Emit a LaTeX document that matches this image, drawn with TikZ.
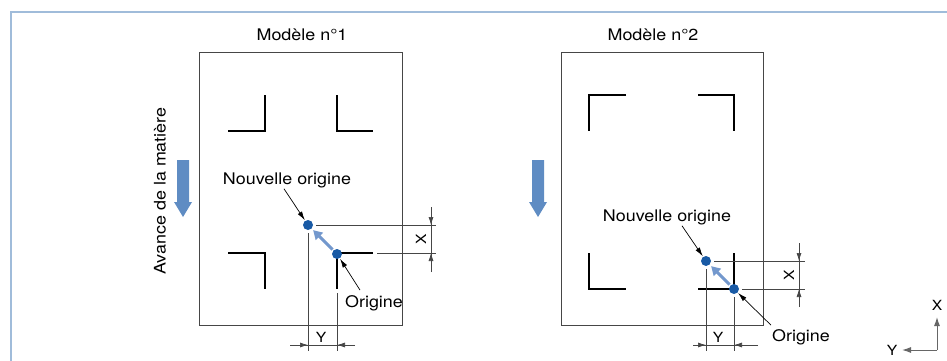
\documentclass[tikz,border=0pt]{standalone}
\usepackage{fontspec}
\setmainfont[FakeStretch=1.12]{TeX Gyre Heros}
\usetikzlibrary{arrows.meta,calc}

\definecolor{cadrebleu}{RGB}{160,188,218}
\definecolor{pointbleu}{RGB}{25,90,165}
\definecolor{flechebleu}{RGB}{115,152,205}
\definecolor{avancebleu}{RGB}{95,140,195}
\definecolor{traitgris}{RGB}{70,70,70}

\tikzset{
  feuille/.style={draw=traitgris, line width=0.9pt},
  repere/.style={draw=black, line width=1.5pt},
  cote/.style={draw=traitgris, line width=0.7pt},
  cotefl/.style={cote, -{Latex[length=8pt,width=5pt]}},
  dot/.style={circle, fill=pointbleu, inner sep=0pt, minimum size=10pt},
  lbl/.style={font=\fontsize{16}{17}\selectfont, inner sep=1pt},
  petit/.style={font=\fontsize{14}{15}\selectfont, inner sep=1pt},
  appel/.style={draw=black, line width=0.7pt, -{Latex[length=9pt,width=5pt]}, shorten >=0.5pt},
  deplace/.style={draw=flechebleu, line width=3pt, -{Triangle[length=9pt,width=10pt]}, shorten >=2pt, shorten <=1pt},
  axe/.style={draw=gray!80!black, line width=1pt, -{Latex[length=9pt,width=6pt]}},
}

\begin{document}
\begin{tikzpicture}[x=1pt, y=-1pt]
  \useasboundingbox (0,0) rectangle (947,361);
  % cadre
  \draw[cadrebleu, line width=1.5pt] (11,365) -- (11,12) -- (950,12);

  % avance de la matiere
  \node[lbl, rotate=90] (avance) at (160,191) {Avance de la matière};
  \fill[avancebleu] (177,160) -- (189,160) -- (189,202) -- (192,202) -- (183,217) -- (174,202) -- (177,202) -- cycle;
  \fill[avancebleu] (532,160) -- (544,160) -- (544,202) -- (547,202) -- (538,217) -- (529,202) -- (532,202) -- cycle;

  % modele 1
  \node[lbl] (titre1) at (302,35) {Modèle n°1};
  \draw[feuille] (199,52) rectangle (402,325);
  \draw[repere] (228,131) -- (265,131) -- (265,95);
  \draw[repere] (337,95) -- (337,131) -- (373,131);
  \draw[repere] (228,253) -- (265,253) -- (265,289);
  \draw[repere] (373,253) -- (337,253) -- (337,289);

  \draw[cote] (316,225) -- (436,225);
  \draw[cote] (377,253) -- (436,253);
  \draw[cote] (308,233) -- (308,351);
  \draw[cote] (337,293) -- (337,351);
  \draw[cote] (431,207) -- (431,272);
  \draw[cotefl] (431,207) -- (431,225);
  \draw[cotefl] (431,272) -- (431,253);
  \node[petit, rotate=90] (cx1) at (421,239) {X};
  \draw[cote] (290,345) -- (355,345);
  \draw[cotefl] (290,345) -- (308,345);
  \draw[cotefl] (355,345) -- (337,345);
  \node[petit] (cy1) at (321,337) {Y};

  \node[dot] (o1) at (337,254) {};
  \node[dot] (n1) at (308,225) {};
  \draw[deplace] (o1) -- (n1);

  \node[lbl] (nouv1) at (287,180) {Nouvelle origine};
  \node[lbl] (orig1) at (374,303) {Origine};
  \draw[appel] ($(nouv1.south)+(-3,0)$) -- (n1);
  \draw[appel] ($(orig1.north)+(-14,-4)$) -- (o1);

  % modele 2
  \node[lbl] (titre2) at (653,35) {Modèle n°2};
  \draw[feuille] (561,52) rectangle (763,325);
  \draw[repere] (626,95) -- (589,95) -- (589,131);
  \draw[repere] (698,95) -- (734,95) -- (734,131);
  \draw[repere] (589,253) -- (589,289) -- (626,289);
  \draw[repere] (698,289) -- (734,289) -- (734,253);

  \draw[cote] (714,261) -- (805,261);
  \draw[cote] (742,289) -- (805,289);
  \draw[cote] (706,269) -- (706,351);
  \draw[cote] (734,297) -- (734,351);
  \draw[cote] (799,243) -- (799,307);
  \draw[cotefl] (799,243) -- (799,261);
  \draw[cotefl] (799,307) -- (799,289);
  \node[petit, rotate=90] (cx2) at (789,275) {X};
  \draw[cote] (693,345) -- (758,345);
  \draw[cotefl] (693,345) -- (706,345);
  \draw[cotefl] (758,345) -- (734,345);
  \node[petit] (cy2) at (718,337) {Y};

  \node[dot] (o2) at (734,289) {};
  \node[dot] (n2) at (706,261) {};
  \draw[deplace] (o2) -- (n2);

  \node[lbl] (nouv2) at (667,217) {Nouvelle origine};
  \node[lbl] (orig2) at (801,337) {Origine};
  \draw[appel] ($(orig2.north west)+(0,-3)$) -- (o2);
  \draw[appel] ($(nouv2.south)+(15,0)$) -- (n2);

  % axes
  \coordinate (coin) at (937,350);
  \draw[axe] (coin) -- (937,317);
  \draw[axe] (coin) -- (902,350);
  \node[petit] (ax) at (937,305) {X};
  \node[petit] (ay) at (892,350) {Y};
\end{tikzpicture}
\end{document}
